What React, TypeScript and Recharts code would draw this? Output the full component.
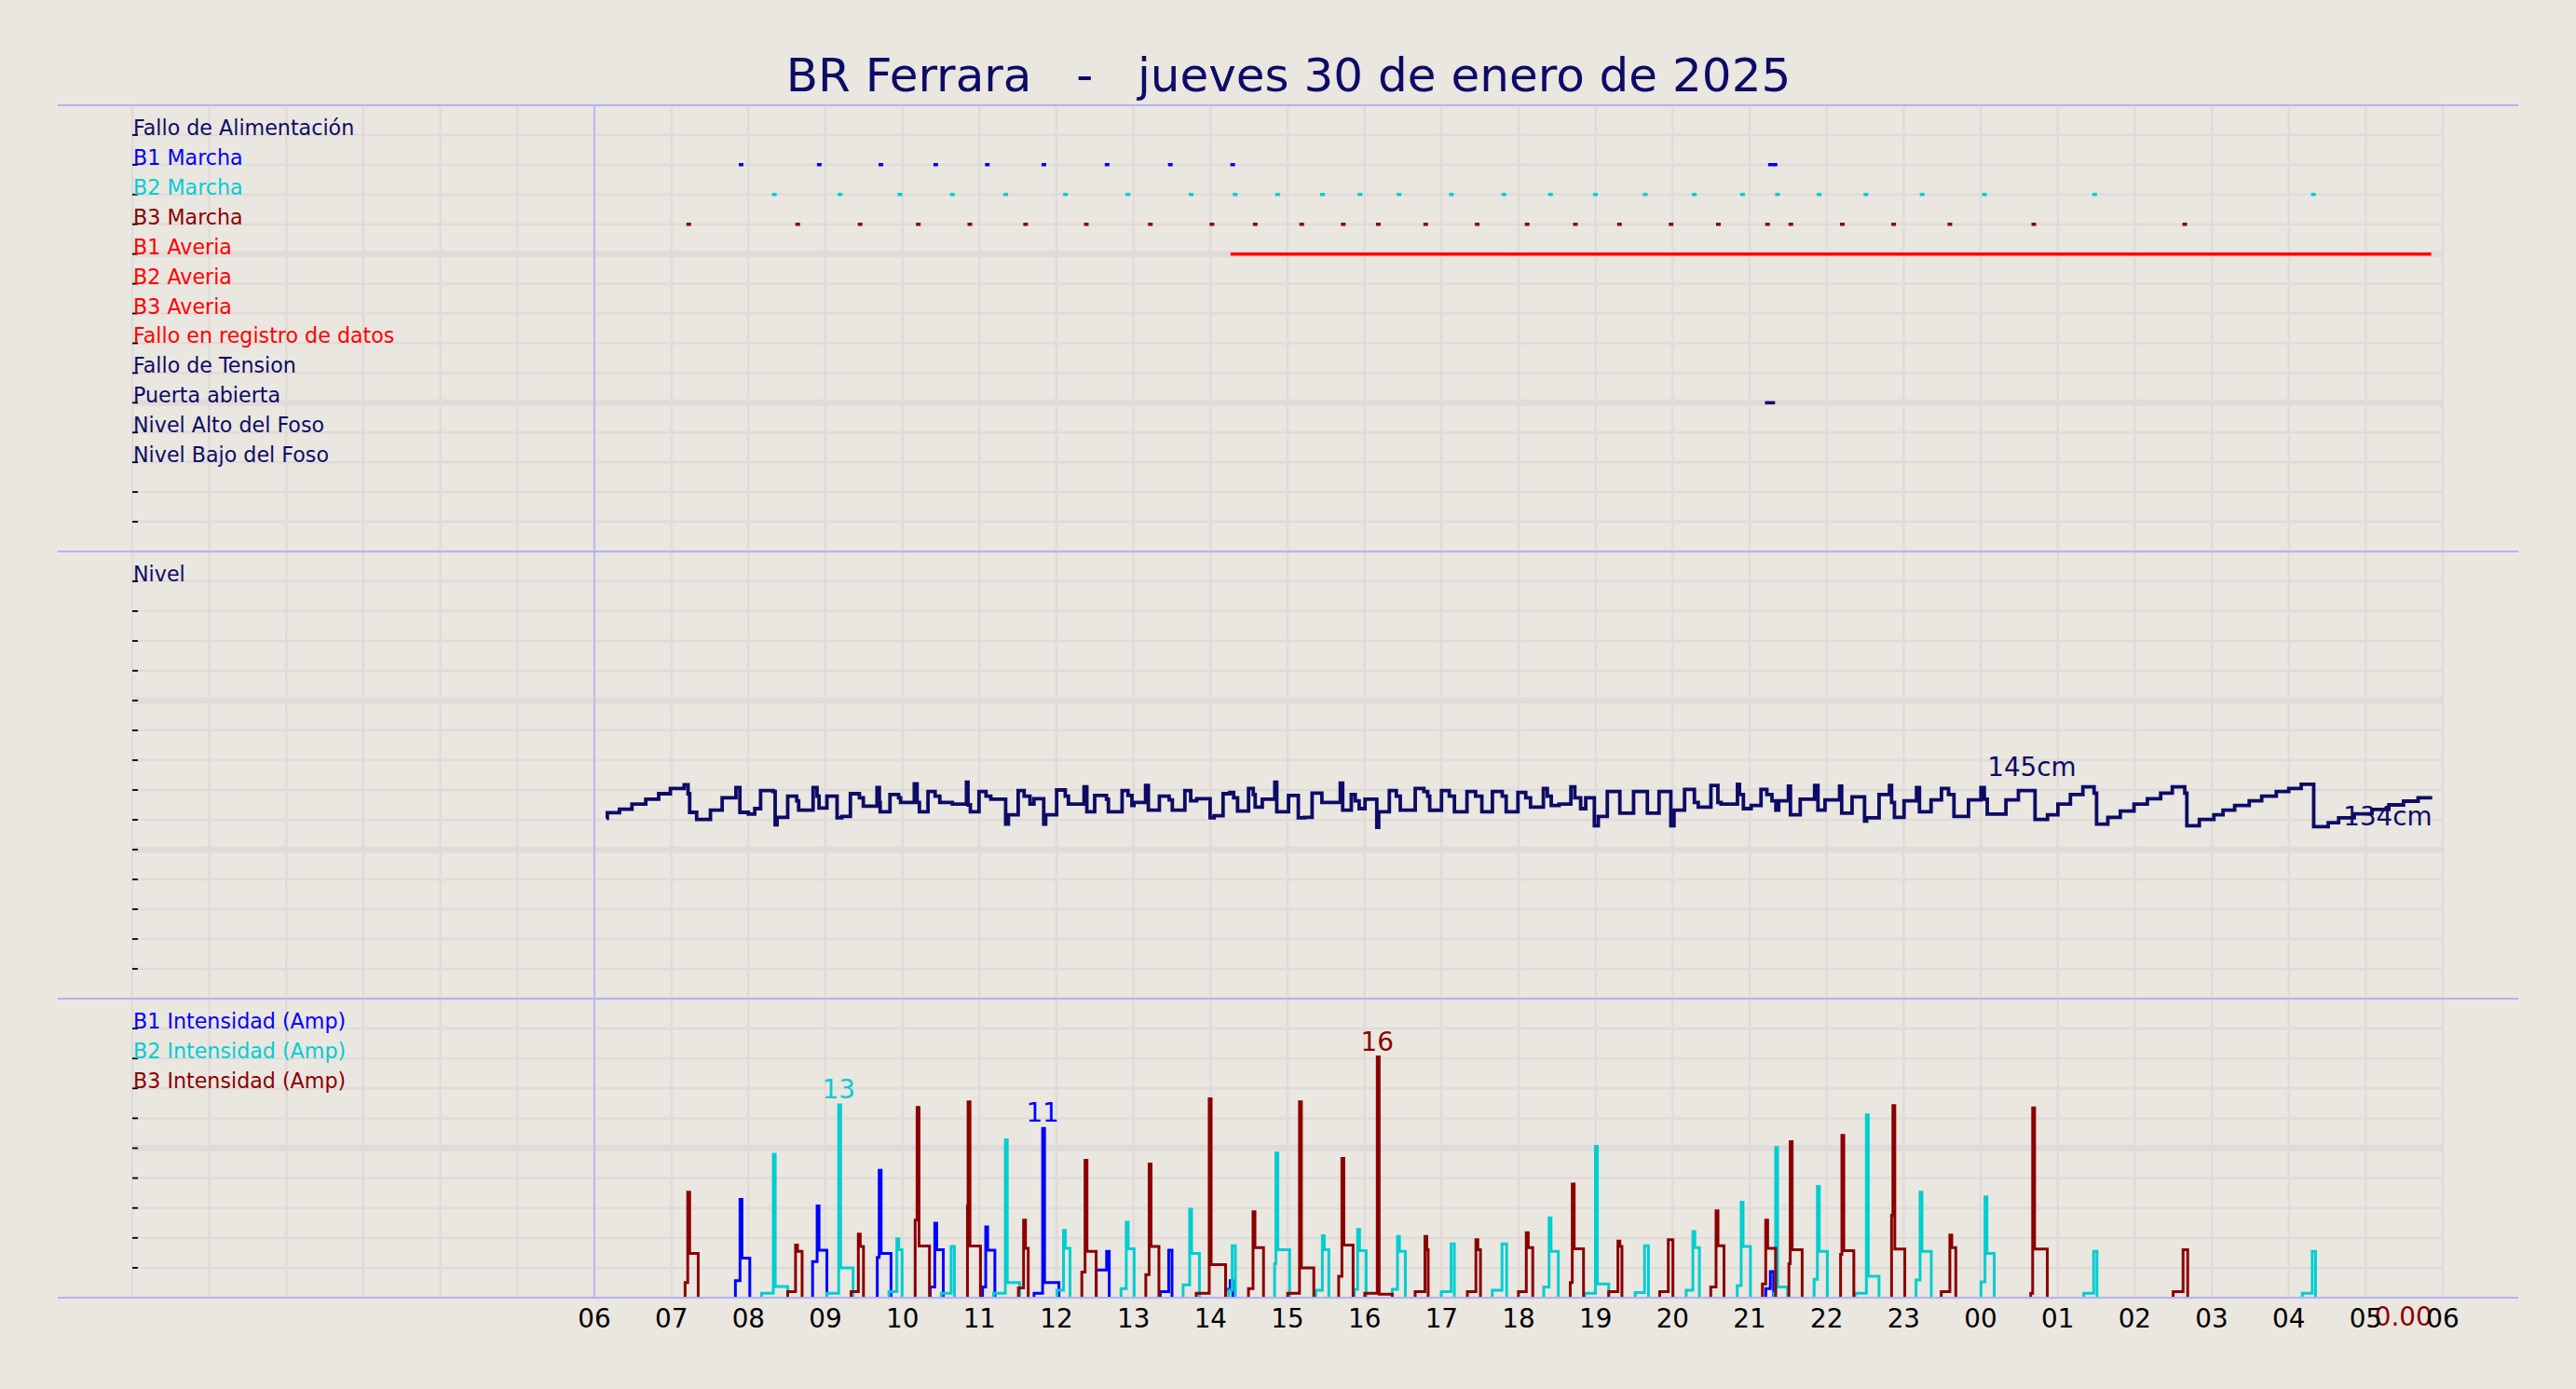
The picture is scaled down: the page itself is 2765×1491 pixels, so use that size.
import React from 'react';
import { ComposedChart, Line, XAxis, YAxis, CartesianGrid, ReferenceLine, Scatter } from 'recharts';

const PAGE_W = 2765;
const PAGE_H = 1491;
const FONT = '"DejaVu Sans", Verdana, sans-serif';
const BG = '#eae6e0';
const GRID = '#e0dbd9';
const SEP = '#b3b3f5';
const NAVY = '#0c0c66';
const BLUE = '#0000ff';
const CYAN = '#00ced1';
const DARKRED = '#8b0000';
const RED = '#ff0000';

const TITLE = 'BR Ferrara   -   jueves 30 de enero de 2025';

// ---------- axes ----------
const hourTicks = [0, 1, 2, 3, 4, 5, 6, 7, 8, 9, 10, 11, 12, 13, 14, 15, 16, 17, 18, 19, 20, 21, 22, 23, 24, 25, 26, 27, 28, 29, 30];
const topTicks = [3.447, 7.197, 10.947, 14.697, 18.447, 22.197, 25.947, 29.697];
const startOfDay = 6;
const statusTicks = [0, 1, 2, 3, 4, 5, 6, 7, 8, 9, 10, 11, 12, 13, 14, 15];
const levelTicks = [0, 20, 40, 60, 80, 100, 120, 140, 160, 180, 200, 220, 240, 260, 280, 300];
const ampTicks = [0, 2, 4, 6, 8, 10, 12, 14, 16, 18, 20];

// ---------- row labels ----------
const statusRows = [
  { v: 14, text: 'Fallo de Alimentación', color: NAVY },
  { v: 13, text: 'B1 Marcha', color: BLUE },
  { v: 12, text: 'B2 Marcha', color: CYAN },
  { v: 11, text: 'B3 Marcha', color: DARKRED },
  { v: 10, text: 'B1 Averia', color: RED },
  { v: 9, text: 'B2 Averia', color: RED },
  { v: 8, text: 'B3 Averia', color: RED },
  { v: 7, text: 'Fallo en registro de datos', color: RED },
  { v: 6, text: 'Fallo de Tension', color: NAVY },
  { v: 5, text: 'Puerta abierta', color: NAVY },
  { v: 4, text: 'Nivel Alto del Foso', color: NAVY },
  { v: 3, text: 'Nivel Bajo del Foso', color: NAVY },
];
const levelRows = [{ v: 280, text: 'Nivel', color: NAVY }];
const ampRows = [
  { v: 18, text: 'B1 Intensidad (Amp)', color: BLUE },
  { v: 16, text: 'B2 Intensidad (Amp)', color: CYAN },
  { v: 14, text: 'B3 Intensidad (Amp)', color: DARKRED },
];

// ---------- status panel data (hours since 00:00) ----------
const b1MarchaTimes = [7.905, 8.92, 9.72, 10.432, 11.102, 11.836, 12.657, 13.478, 14.288, 21.27, 21.33];
const b2MarchaTimes = [8.337, 9.19, 9.968, 10.648, 11.34, 12.117, 12.927, 13.748, 14.32, 14.871, 15.454, 15.94, 16.448, 17.128, 17.809, 18.414, 18.997, 19.645, 20.282, 20.908, 21.362, 21.902, 22.51, 23.24, 24.05, 25.48, 28.32];
const b3MarchaTimes = [7.225, 8.64, 9.45, 10.206, 10.875, 11.599, 12.387, 13.219, 14.018, 14.58, 15.184, 15.724, 16.178, 16.794, 17.463, 18.111, 18.738, 19.31, 19.98, 20.595, 21.232, 21.535, 22.204, 22.87, 23.6, 24.69, 26.65];
const b1AveriaPeriod = [14.26, 29.85];
const puertaAbiertaPeriod = [21.2, 21.33];

// ---------- level (cm), step values [hour, cm] ----------
const levelMorning: [number, number][] = [
  [6.157, 121], [6.168, 124.8], [6.326, 127.1], [6.488, 130.6], [6.667, 133.8], [6.835, 137.5], [6.987, 141], [7.166, 143.5], [7.216, 137.5], [7.237, 125], [7.328, 120.2], [7.507, 126.5], [7.659, 134.8], [7.838, 141.7], [7.889, 125], [8.0, 123.8], [8.082, 127.5], [8.158, 139.6], [8.321, 139], [8.347, 116.7], [8.372, 121.7], [8.51, 135.8], [8.627, 132.7], [8.652, 126.5], [8.84, 141.7], [8.891, 135.8], [8.917, 127.9], [9.019, 135.8], [9.151, 121.3], [9.212, 122.3], [9.324, 137.5], [9.441, 134.8], [9.492, 129.2], [9.67, 141.7], [9.7, 131.7], [9.711, 125.4], [9.838, 136.9], [9.95, 134.8], [9.976, 131.7], [10.154, 144.2], [10.19, 131.7], [10.22, 125.4], [10.332, 139], [10.424, 135.8], [10.485, 131.7], [10.648, 130.6], [10.831, 145.2], [10.851, 130], [10.882, 125.4], [10.994, 139], [11.085, 135.8], [11.147, 133.8], [11.34, 117.1], [11.376, 123.3], [11.503, 139.6], [11.58, 135.8], [11.656, 130.6], [11.707, 134.2], [11.834, 117.1], [11.86, 123.3], [12.002, 140], [12.114, 135.8], [12.155, 130.6], [12.358, 142.1], [12.394, 125.4], [12.496, 136.3], [12.649, 133.8], [12.674, 125.4], [12.852, 139.6], [12.929, 136.3], [12.98, 129.6], [13.005, 131.7], [13.157, 143.1], [13.193, 126.5], [13.336, 135.8], [13.463, 133.3], [13.504, 126.5], [13.667, 139.6], [13.743, 132.7], [13.82, 134.2],
];
const levelAfternoon: [number, number][] = [
  [13.995, 121.3], [14.046, 122.7], [14.163, 137.5], [14.25, 138.3], [14.3, 134.8], [14.351, 125.8], [14.494, 141], [14.555, 136.9], [14.58, 128.5], [14.672, 133.8], [14.835, 145.2], [14.86, 125.4], [15.013, 136.3], [15.14, 121.3], [15.217, 121.7], [15.319, 137.9], [15.446, 131.7], [15.685, 144.6], [15.716, 126.5], [15.828, 136.9], [15.879, 132.7], [15.93, 127.5], [16.006, 133.8], [16.159, 115], [16.184, 125.4], [16.322, 139.6], [16.413, 135.8], [16.464, 126.5], [16.658, 141], [16.77, 139], [16.82, 135.8], [16.846, 126.4], [16.999, 139.6], [17.1, 135.8], [17.167, 125.4], [17.33, 139], [17.442, 135.8], [17.523, 125.4], [17.66, 139], [17.788, 135.8], [17.839, 125.4], [17.992, 138.3], [18.093, 134.8], [18.155, 128.5], [18.322, 141], [18.373, 135.8], [18.424, 129.6], [18.526, 130.6], [18.679, 142.1], [18.73, 134.8], [18.806, 127.5], [18.872, 134.8], [18.984, 116], [19.035, 122.3], [19.152, 139], [19.315, 124.4], [19.493, 139], [19.672, 124.4], [19.824, 139], [19.977, 116], [20.018, 126.5], [20.155, 140.4], [20.283, 131.7], [20.333, 128.5], [20.497, 143.1], [20.588, 131.7], [20.629, 130.6], [20.842, 143.8], [20.868, 136.9], [20.919, 127.5], [21.02, 129.6], [21.148, 140.4], [21.224, 136.9], [21.29, 132.7], [21.341, 126.5], [21.377, 132.7], [21.504, 142.5], [21.53, 123.3], [21.657, 133.8],
];
const levelNight: [number, number][] = [
  [21.844, 143.1], [21.887, 126.5], [21.979, 133.3], [22.168, 142.5], [22.195, 124.4], [22.33, 135.4], [22.492, 119.2], [22.519, 121.3], [22.681, 136.9], [22.816, 143.1], [22.843, 131.7], [22.88, 121.7], [23.005, 132.7], [23.167, 141.7], [23.205, 125.4], [23.356, 133.3], [23.491, 141], [23.583, 136.9], [23.653, 122.3], [23.842, 133.3], [24.004, 141.7], [24.047, 133.8], [24.085, 123.8], [24.328, 133.3], [24.49, 139.6], [24.706, 120.2], [24.868, 123.3], [25.003, 130.6], [25.165, 136.9], [25.327, 142.1], [25.473, 137.9], [25.505, 117.1], [25.651, 121.7], [25.813, 125.8], [25.991, 130.6], [26.164, 134.2], [26.337, 137.9], [26.488, 142.1], [26.65, 137.9], [26.677, 116], [26.839, 120.2], [27.028, 123.3], [27.147, 126.5], [27.298, 129.6], [27.487, 132.7], [27.649, 135.8], [27.838, 139], [28.0, 141], [28.162, 143.8], [28.324, 115.4], [28.513, 118.1], [28.648, 121.3], [28.85, 124], [29.08, 127], [29.3, 130], [29.49, 132.5], [29.68, 134.8], [29.863, 134.8],
];
const levelMaxLabel = [{ t: 24.665, v: 145, text: '145cm', color: NAVY }];
const levelEndLabel = [{ t: 29.863, v: 134.8, text: '134cm', color: NAVY }];

// ---------- pump currents (A): [baseStart, baseAmp, spikeTime, peakAmp, runAmp, end] ----------
type Ev = [number, number, number, number, number, number];
const b1Events: Ev[] = [
  [7.831, 1.13, 7.891, 6.58, 2.65, 8.018],
  [8.833, 2.41, 8.892, 6.13, 3.17, 9.019],
  [9.673, 2.69, 9.698, 8.52, 2.96, 9.851],
  [10.36, 0.71, 10.42, 4.98, 3.21, 10.53],
  [11.04, 0.71, 11.081, 4.73, 3.17, 11.2],
  [11.709, 0.29, 11.82, 11.33, 1.02, 12.032],
  [12.516, 1.85, 12.651, 3.1, 3.1, 12.685],
  [13.347, 0.4, 13.457, 3.17, 3.17, 13.5],
  [14.196, 0.56, 14.255, 1.13, 1.13, 14.29],
  [21.209, 0.6, 21.269, 1.75, 1.75, 21.312],
];
const b2Events: Ev[] = [
  [8.171, 0.29, 8.323, 9.6, 0.75, 8.51],
  [9.019, 0.29, 9.172, 12.9, 2.0, 9.359],
  [9.825, 0.4, 9.927, 3.94, 3.21, 9.995],
  [10.504, 0.29, 10.632, 3.42, 3.42, 10.674],
  [11.183, 0.29, 11.336, 10.56, 1.02, 11.523],
  [12.006, 0.5, 12.091, 4.5, 3.31, 12.176],
  [12.838, 0.6, 12.906, 5.04, 3.27, 13.008],
  [13.644, 0.85, 13.729, 5.92, 2.96, 13.856],
  [14.238, 0.5, 14.281, 3.48, 3.48, 14.323],
  [14.832, 2.27, 14.849, 9.67, 3.21, 15.027],
  [15.367, 0.5, 15.452, 4.15, 3.21, 15.536],
  [15.868, 0.56, 15.91, 4.56, 3.15, 16.02],
  [16.36, 0.56, 16.428, 4.1, 3.1, 16.53],
  [16.996, 0.4, 17.124, 3.6, 3.6, 17.166],
  [17.658, 0.5, 17.785, 3.6, 3.6, 17.845],
  [18.327, 0.71, 18.396, 5.35, 3.1, 18.516],
  [18.86, 0.29, 18.998, 10.13, 0.92, 19.17],
  [19.514, 0.35, 19.635, 3.48, 3.48, 19.686],
  [20.176, 0.5, 20.263, 4.42, 3.35, 20.348],
  [20.839, 0.81, 20.89, 6.38, 3.42, 21.011],
  [21.32, 0.29, 21.338, 10.04, 0.71, 21.493],
  [21.837, 1.23, 21.88, 7.44, 3.1, 22.009],
  [22.37, 0.29, 22.516, 12.23, 1.44, 22.68],
  [23.161, 1.19, 23.213, 7.06, 3.1, 23.359],
  [24.004, 1.06, 24.056, 6.75, 2.96, 24.176],
  [25.338, 0.29, 25.467, 3.1, 3.1, 25.51],
  [28.176, 0.29, 28.305, 3.1, 3.1, 28.348],
];
const b3Events: Ev[] = [
  [7.178, 1.02, 7.212, 7.06, 2.96, 7.348],
  [8.51, 0.4, 8.612, 3.52, 3.1, 8.697],
  [9.333, 0.4, 9.427, 4.25, 3.42, 9.494],
  [10.165, 5.19, 10.19, 12.73, 3.46, 10.351],
  [10.844, 6.13, 10.852, 13.1, 3.46, 11.013],
  [11.506, 0.65, 11.573, 5.19, 3.31, 11.633],
  [12.329, 1.71, 12.371, 9.19, 3.1, 12.515],
  [13.16, 1.54, 13.203, 8.94, 3.42, 13.33],
  [13.814, 0.29, 13.983, 13.31, 2.21, 14.196],
  [14.493, 0.6, 14.552, 5.75, 3.35, 14.688],
  [15.002, 0.29, 15.155, 13.1, 2.0, 15.341],
  [15.664, 1.44, 15.706, 9.31, 3.52, 15.851],
  [16.003, 0.29, 16.165, 16.1, 0.23, 16.36],
  [16.657, 0.4, 16.784, 4.1, 3.21, 16.826],
  [17.335, 0.4, 17.446, 3.88, 3.21, 17.505],
  [17.998, 0.4, 18.1, 4.35, 3.35, 18.184],
  [18.671, 1.02, 18.697, 7.6, 3.27, 18.843],
  [19.17, 0.4, 19.29, 3.79, 3.42, 19.342],
  [19.832, 0.4, 19.944, 3.88, 3.88, 20.004],
  [20.495, 0.71, 20.564, 5.81, 3.48, 20.667],
  [21.166, 0.92, 21.209, 5.19, 3.31, 21.338],
  [21.51, 2.27, 21.527, 10.44, 3.21, 21.682],
  [22.181, 2.9, 22.198, 10.85, 3.15, 22.353],
  [22.843, 5.5, 22.86, 12.85, 3.25, 23.015],
  [23.488, 0.4, 23.6, 4.19, 3.35, 23.677],
  [24.65, 0.29, 24.675, 12.69, 3.25, 24.865],
  [26.499, 0.4, 26.628, 3.21, 3.21, 26.688],
];
const ampPeakLabels = [
  { t: 9.172, v: 12.9, text: '13', color: CYAN },
  { t: 11.82, v: 11.33, text: '11', color: BLUE },
  { t: 16.165, v: 16.1, text: '16', color: DARKRED },
];
const ampEndLabel = [{ t: 29.863, v: 0, text: '0.00', color: DARKRED }];

// ---------- builders ----------
const MARK_HALF = 0.03;
const SPIKE_W = 0.025;
function markerData(times: number[], row: number) {
  return times.flatMap((t) => [
    { t: t - MARK_HALF, v: row },
    { t: t + MARK_HALF, v: row },
    { t: t + MARK_HALF + 0.001, v: null },
  ]);
}
function periodData(p: number[], row: number) {
  return [{ t: p[0], v: row }, { t: p[1], v: row }];
}
function eventData(events: Ev[]) {
  return events.flatMap(([b, bl, s, pk, pl, e]) => [
    { t: b, v: 0 },
    { t: b, v: bl },
    { t: s, v: pk },
    { t: s + SPIKE_W, v: pl },
    { t: e, v: 0 },
    { t: e + 0.0005, v: null },
  ]);
}
const levelData = [...levelMorning, ...levelAfternoon, ...levelNight].map(([t, v]) => ({ t, v }));

const TICKLINE = { stroke: '#000000', strokeWidth: 1.8 };

const rowLabel = (rows: { v: number; text: string; color: string }[]) => (props: any) => {
  const { x, y, payload } = props;
  const row = rows.find((r) => r.v === payload.value);
  if (!row) return <g />;
  return (
    <text x={x - 5} y={y} fill={row.color} fontSize={22.2} fontFamily={FONT} textAnchor="start">
      {row.text}
    </text>
  );
};

const gridH = (ticks: number[], majorEvery: number) => (p: any) => {
  const val = ticks[p.index];
  const major = val !== undefined && val % majorEvery === 0 && val !== 0 && val !== ticks[ticks.length - 1];
  return <line key={p.key} x1={p.x1} y1={p.y1} x2={p.x2} y2={p.y2} stroke={GRID} strokeWidth={major ? 7 : 2.5} />;
};

const HourTick = (props: any) => {
  const { x, y, payload } = props;
  const h = payload.value as number;
  if (h < startOfDay) return <g />;
  const label = String(h % 24).padStart(2, '0');
  return (
    <text x={x} y={y + 32} textAnchor="middle" fill="#000000" fontSize={27.8} fontFamily={FONT}>
      {label}
    </text>
  );
};

const labelAbove = (p: any) => (
  <text x={p.cx} y={p.cy - 7} textAnchor="middle" fill={p.payload.color} fontSize={27.8} fontFamily={FONT}>
    {p.payload.text}
  </text>
);
const labelBelowEnd = (p: any) => (
  <text x={p.cx} y={p.cy + 30} textAnchor="end" fill={p.payload.color} fontSize={27.8} fontFamily={FONT}>
    {p.payload.text}
  </text>
);

function StatusPanel() {
  return (
    <ComposedChart width={PAGE_W} height={600} margin={{ top: 113, right: 143, bottom: 8, left: 142 }}>
      <CartesianGrid stroke={GRID} strokeWidth={2.5} horizontal={gridH(statusTicks, 5)} />
      <XAxis dataKey="t" type="number" domain={[0, 30]} ticks={hourTicks} interval={0} hide />
      <XAxis xAxisId="top" orientation="top" mirror height={2} type="number" domain={[0, 30]} ticks={topTicks} interval={0} tick={false} axisLine={false} tickSize={9} tickLine={{ stroke: '#000000', strokeWidth: 1.5 }} />
      <YAxis dataKey="v" type="number" domain={[0, 15]} ticks={statusTicks} interval={0} mirror width={2} axisLine={false} tickSize={6} tickMargin={0} tickLine={TICKLINE} tick={rowLabel(statusRows)} />
      <YAxis yAxisId="r" orientation="right" type="number" domain={[0, 15]} ticks={statusTicks} interval={0} mirror width={2} axisLine={false} tickSize={5} tickLine={TICKLINE} tick={false} />
      <ReferenceLine x={startOfDay} stroke={SEP} strokeWidth={1.6} />
      <Line data={periodData(b1AveriaPeriod, 10)} dataKey="v" stroke={RED} strokeWidth={3.5} dot={false} isAnimationActive={false} />
      <Line data={periodData(puertaAbiertaPeriod, 5)} dataKey="v" stroke={NAVY} strokeWidth={3.5} dot={false} isAnimationActive={false} />
      <Line data={markerData(b1MarchaTimes, 13)} dataKey="v" stroke={BLUE} strokeWidth={3.5} dot={false} isAnimationActive={false} />
      <Line data={markerData(b2MarchaTimes, 12)} dataKey="v" stroke={CYAN} strokeWidth={3.5} dot={false} isAnimationActive={false} />
      <Line data={markerData(b3MarchaTimes, 11)} dataKey="v" stroke={DARKRED} strokeWidth={3.5} dot={false} isAnimationActive={false} />
    </ComposedChart>
  );
}

function LevelPanel() {
  return (
    <ComposedChart width={PAGE_W} height={500} margin={{ top: 12, right: 143, bottom: 8, left: 142 }}>
      <CartesianGrid stroke={GRID} strokeWidth={2.5} horizontal={gridH(levelTicks, 100)} />
      <XAxis dataKey="t" type="number" domain={[0, 30]} ticks={hourTicks} interval={0} hide />
      <YAxis dataKey="v" type="number" domain={[0, 300]} ticks={levelTicks} interval={0} mirror width={2} axisLine={false} tickSize={6} tickMargin={0} tickLine={TICKLINE} tick={rowLabel(levelRows)} />
      <YAxis yAxisId="r" orientation="right" type="number" domain={[0, 300]} ticks={levelTicks} interval={0} mirror width={2} axisLine={false} tickSize={5} tickLine={TICKLINE} tick={false} />
      <ReferenceLine x={startOfDay} stroke={SEP} strokeWidth={1.6} />
      <Line data={levelData} dataKey="v" type="stepAfter" stroke={NAVY} strokeWidth={3.8} dot={false} isAnimationActive={false} />
      <Scatter data={levelMaxLabel} dataKey="v" shape={labelAbove} isAnimationActive={false} />
      <Scatter data={levelEndLabel} dataKey="v" shape={labelBelowEnd} isAnimationActive={false} />
    </ComposedChart>
  );
}

function AmpPanel() {
  return (
    <ComposedChart width={PAGE_W} height={431} margin={{ top: 12, right: 143, bottom: 38, left: 142 }}>
      <CartesianGrid stroke={GRID} strokeWidth={2.5} horizontal={gridH(ampTicks, 10)} />
      <XAxis dataKey="t" type="number" domain={[0, 30]} ticks={hourTicks} interval={0} height={60} axisLine={false} tickLine={false} tickSize={0} tickMargin={0} tick={HourTick} />
      <YAxis dataKey="v" type="number" domain={[0, 20]} ticks={ampTicks} interval={0} mirror width={2} axisLine={false} tickSize={6} tickMargin={0} tickLine={TICKLINE} tick={rowLabel(ampRows)} />
      <YAxis yAxisId="r" orientation="right" type="number" domain={[0, 20]} ticks={ampTicks} interval={0} mirror width={2} axisLine={false} tickSize={5} tickLine={TICKLINE} tick={false} />
      <ReferenceLine x={startOfDay} stroke={SEP} strokeWidth={1.6} />
      <Line data={eventData(b1Events)} dataKey="v" type="stepAfter" stroke={BLUE} strokeWidth={3} dot={false} isAnimationActive={false} />
      <Line data={eventData(b2Events)} dataKey="v" type="stepAfter" stroke={CYAN} strokeWidth={3} dot={false} isAnimationActive={false} />
      <Line data={eventData(b3Events)} dataKey="v" type="stepAfter" stroke={DARKRED} strokeWidth={3} dot={false} isAnimationActive={false} />
      <Scatter data={ampPeakLabels} dataKey="v" shape={labelAbove} isAnimationActive={false} />
      <Scatter data={ampEndLabel} dataKey="v" shape={labelBelowEnd} isAnimationActive={false} />
    </ComposedChart>
  );
}

const separatorRows = [112, 591, 1071, 1392];

export default function App() {
  return (
    <div style={{ position: 'absolute', left: 0, top: 0, width: PAGE_W, height: PAGE_H, background: BG, fontFamily: FONT, overflow: 'hidden' }}>
      <svg style={{ position: 'absolute', left: 0, top: 0 }} width={PAGE_W} height={130}>
        <text x={1383} y={98} textAnchor="middle" fontSize={50} fill={NAVY} fontFamily={FONT} style={{ whiteSpace: 'pre' }}>
          {TITLE}
        </text>
      </svg>
      <div style={{ position: 'absolute', left: 0, top: 0 }}>
        <StatusPanel />
      </div>
      <div style={{ position: 'absolute', left: 0, top: 580 }}>
        <LevelPanel />
      </div>
      <div style={{ position: 'absolute', left: 0, top: 1060 }}>
        <AmpPanel />
      </div>
      {separatorRows.map((y) => (
        <div key={y} style={{ position: 'absolute', left: 62, top: y, width: 2641, height: 2, background: SEP }} />
      ))}
    </div>
  );
}
